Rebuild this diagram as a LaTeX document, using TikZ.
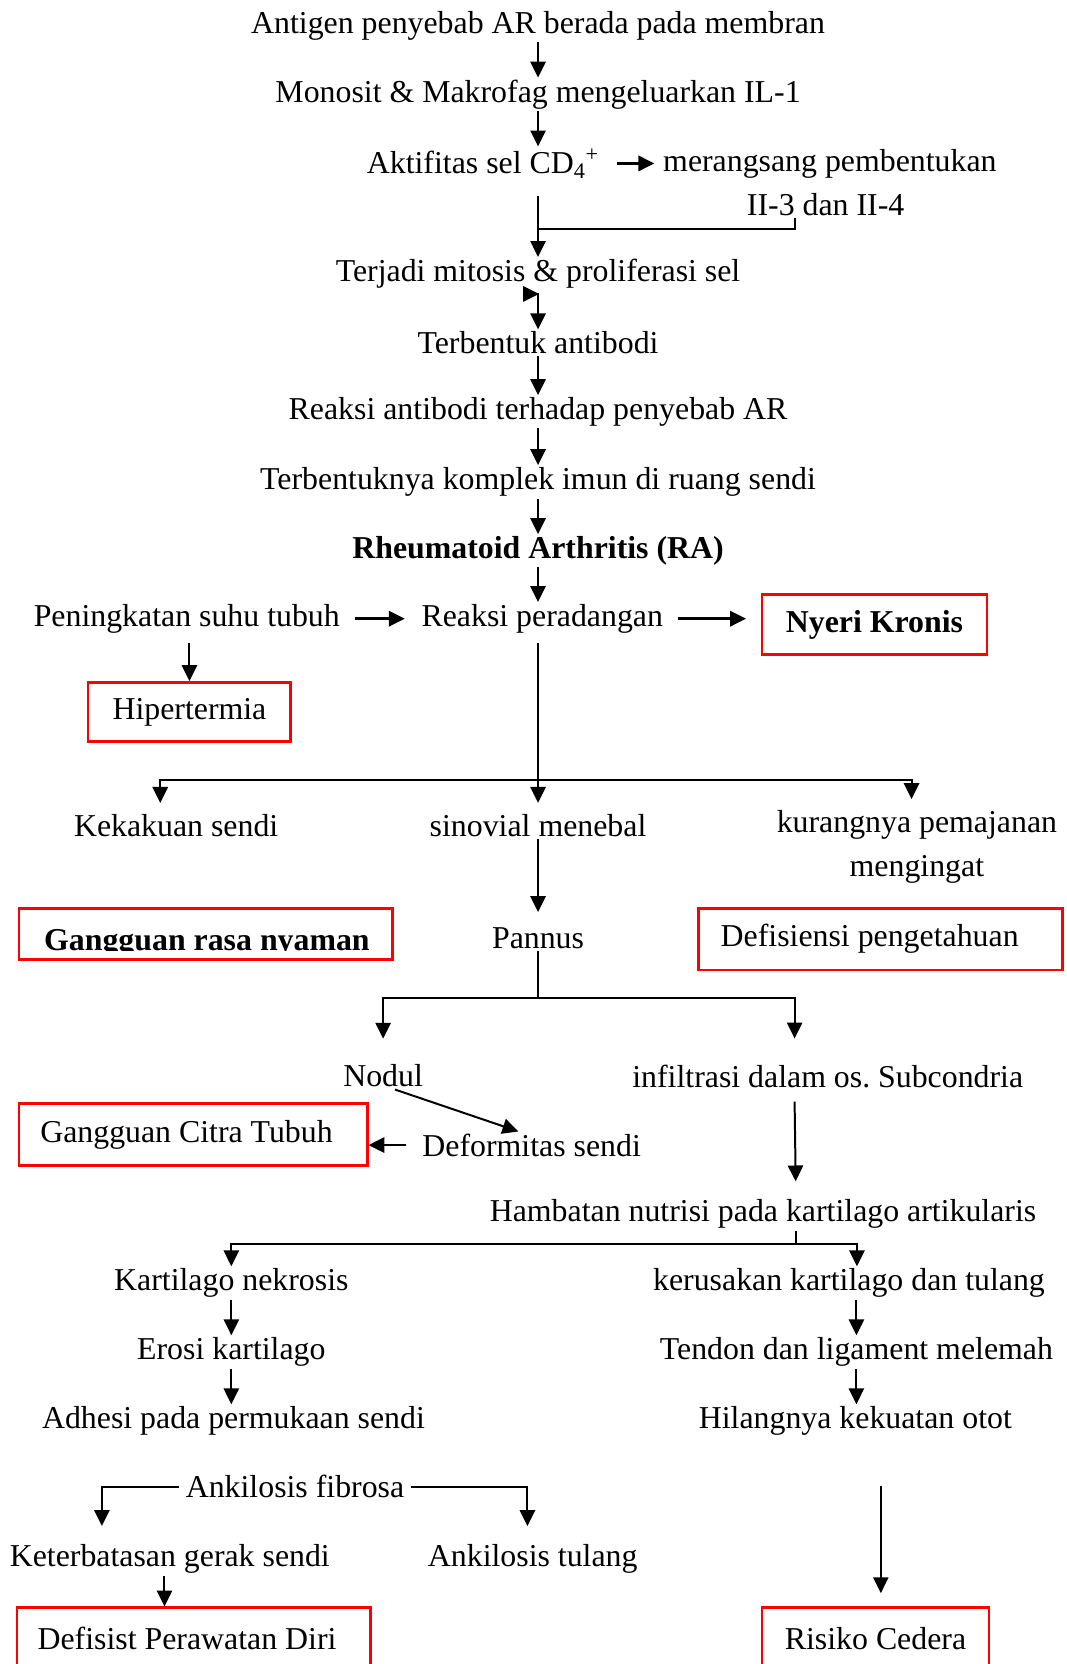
\documentclass[tikz,border=0pt]{standalone}
\usepackage{fontspec}
\setmainfont{Liberation Serif}
\usetikzlibrary{arrows.meta}
\tikzset{
    >={Triangle[length=12pt,width=11.5pt]},
    txt/.style={inner sep=1.5pt,yshift=-2.4pt},
    redbox/.style={draw=red,line width=2pt,minimum width=#1,minimum height=46.4pt},
    link/.style={->,line width=1.5pt},
    wire/.style={line width=1.5pt},
    gap/.style={line width=2pt,shorten <=10pt,shorten >=11pt}
}

\begin{document}
\begin{tikzpicture}[x=0.8pt,y=-0.8pt,font=\fontsize{24}{32.8}\selectfont]
  \useasboundingbox (0,0) rectangle (1005,1568);

  \node[txt] (t1) at (507,21)  {Antigen penyebab AR berada pada membran};
  \node[txt] (t2) at (507,86)  {Monosit \& Makrofag mengeluarkan IL-1};
  \node[txt] (t3) at (455,151) {Aktifitas sel CD\textsubscript{4}\textsuperscript{+}};
  \node[txt] (t4) at (782,151) {merangsang pembentukan};
  \node[txt] (t5) at (778,190) {II-3 dan II-4};
  \node[txt] (t6) at (507,255) {Terjadi mitosis \& proliferasi sel};
  \node[txt] (t7) at (507,320) {Terbentuk antibodi};
  \node[txt] (t8) at (507,385) {Reaksi antibodi terhadap penyebab AR};
  \node[txt] (t9) at (507,451) {Terbentuknya komplek imun di ruang sendi};
  \node[txt] (ra) at (507,516) {\textbf{Rheumatoid Arthritis (RA)}};

  \node[txt] (suhu)   at (176,580) {Peningkatan suhu tubuh};
  \node[txt] (radang) at (511,580) {Reaksi peradangan};
  \node[redbox=169.6pt,minimum height=45.6pt] (nyeri) at (824,588.5) {\textbf{Nyeri Kronis}};
  \node[redbox=152.8pt,minimum height=44.8pt] (hiper) at (178.5,671) {Hipertermia};

  \node[txt] (kaku)  at (166,775) {Kekakuan sendi};
  \node[txt] (sinov) at (507,775) {sinovial menebal};
  \node[txt,align=center] (kurang) at (864,795) {kurangnya pemajanan\\mengingat};
  \node[redbox=281.6pt,minimum height=38.4pt] (nyaman) at (194,880) {};
  \begin{scope}
    \clip (nyaman.north west) rectangle (370,895.5);
    \node[inner sep=1.5pt,anchor=base] (nyamantxt) at (195,896) {\textbf{Gangguan rasa nyaman}};
  \end{scope}
  \node[txt] (pannus) at (507,881) {Pannus};
  \node[redbox=274.4pt] (defis) at (829.5,885) {Defisiensi pengetahuan\hspace*{16pt}};

  \node[txt] (nodul)  at (361,1011) {Nodul};
  \node[txt] (infil)  at (780,1011) {infiltrasi dalam os.\ Subcondria};
  \node[txt] (deform) at (501,1076) {Deformitas sendi};
  \node[redbox=262.4pt] (citra) at (182,1069) {Gangguan Citra Tubuh\hspace*{10pt}};
  \node[txt] (hamb)   at (719,1141) {Hambatan nutrisi pada kartilago artikularis};

  \node[txt] (nekro)  at (218,1206) {Kartilago nekrosis};
  \node[txt] (rusak)  at (800,1206) {kerusakan kartilago dan tulang};
  \node[txt] (erosi)  at (218,1271) {Erosi kartilago};
  \node[txt] (tendon) at (807,1271) {Tendon dan ligament melemah};
  \node[txt] (adhesi) at (220,1336) {Adhesi pada permukaan sendi};
  \node[txt] (hilang) at (806,1336) {Hilangnya kekuatan otot};

  \node[txt,inner xsep=5pt] (fibrosa) at (278,1398) {Ankilosis fibrosa};
  \node[txt] (gerak)   at (160,1466) {Keterbatasan gerak sendi};
  \node[txt] (tulang)  at (502,1466) {Ankilosis tulang};
  \node[redbox=266.4pt] (rawat)  at (182.5,1544) {Defisist Perawatan Diri\hspace*{10pt}};
  \node[redbox=171.2pt] (cedera) at (825,1544) {Risiko Cedera};

  \coordinate (j1) at (507,216);
  \coordinate (j2) at (749,216);
  \coordinate (j3) at (493,277);
  \coordinate (s1) at (507,735);
  \coordinate (s2) at (507,940);
  \coordinate (s3) at (750,1172);
  \coordinate (g1) at (96,1438);
  \coordinate (g2) at (497,1438);
  \coordinate (g3) at (155,1481);
  \coordinate (r1) at (830,1400);

  \draw[link] (t1) -- (t1 |- t2.north);
  \draw[link] (t2) -- (t2 |- t3.north);
  \draw[link,gap,shorten <=12pt,shorten >=5pt] (t3) -- (t4);
  \draw[wire] (j2 |- t5.south) -- (j2) -- (j1);
  \draw[link,shorten <=12pt] (j1 |- t3.south) -- (j1 |- t6.north);
  \draw[wire,{Triangle[length=12pt,width=11.5pt,reversed]}->] (j3) -| (t7.north);
  \draw[link] (t7) -- (t7 |- t8.north);
  \draw[link] (t8) -- (t8 |- t9.north);
  \draw[link] (t9) -- (t9 |- ra.north);
  \draw[link] (ra) -- (ra |- radang.north);

  \draw[link,gap] (suhu) -- (radang);
  \draw[link,gap] (radang.east) -- (radang.east -| nyeri.west);
  \draw[link,shorten <=6pt] (hiper.north |- suhu.south) -- (hiper.north);
  \draw[wire,shorten <=6pt] (radang.south -| s1) -- (s1);
  \draw[link,shorten >=7pt] (s1) -| ([xshift=-12pt]kaku.north);
  \draw[link,shorten >=7pt] (s1) -- (sinov.north);
  \draw[link,shorten >=7pt] (s1) -| ([xshift=-4pt]kurang.north);

  \draw[link,shorten >=10pt] (sinov) -- (pannus);
  \draw[wire] (pannus) -- (s2);
  \draw[link] (s2) -| ([yshift=18pt]nodul.north);
  \draw[link] (s2) -| ([xshift=-25pt,yshift=18pt]infil.north);
  \draw[link] ([xshift=9pt]nodul.south) -- ([xshift=-10pt]deform.north);
  \draw[link,gap,shorten <=11pt,shorten >=0pt] (deform.west) -- (deform.west -| citra.east);
  \draw[link,shorten >=12pt] ([xshift=-25pt,yshift=-9pt]infil.south) -- (s3 |- hamb.north);

  \draw[wire] (hamb.south -| s3) -- (s3);
  \draw[link] (s3) -| (nekro.north);
  \draw[link] (s3) -| ([xshift=6pt]rusak.north);
  \draw[link] (nekro) -- (erosi);
  \draw[link] (tendon.north |- rusak.south) -- (tendon.north);
  \draw[link] (erosi) -- (erosi |- adhesi.north);
  \draw[link] (tendon) -- (tendon |- hilang.north);

  \draw[link] (fibrosa.west) -| (g1);
  \draw[link] (fibrosa.east) -| (g2);
  \draw[link] (g3 |- gerak.south) -- (g3 |- rawat.north);
  \draw[link,shorten >=10pt] (r1) -- (r1 |- cedera.north);
\end{tikzpicture}
\end{document}
